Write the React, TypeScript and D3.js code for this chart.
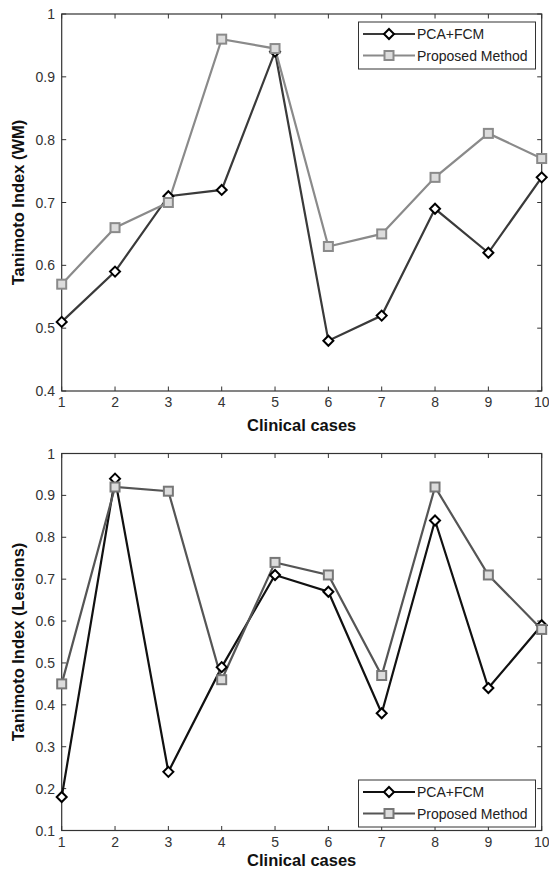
import React from "react";
import * as d3 from "d3";

const cases = [1, 2, 3, 4, 5, 6, 7, 8, 9, 10];
const wmPcaFcm = [0.51, 0.59, 0.71, 0.72, 0.94, 0.48, 0.52, 0.69, 0.62, 0.74];
const wmProposed = [0.57, 0.66, 0.70, 0.96, 0.945, 0.63, 0.65, 0.74, 0.81, 0.77];
const lesPcaFcm = [0.18, 0.94, 0.24, 0.49, 0.71, 0.67, 0.38, 0.84, 0.44, 0.59];
const lesProposed = [0.45, 0.92, 0.91, 0.46, 0.74, 0.71, 0.47, 0.92, 0.71, 0.58];
const wmYTicks = [0.4, 0.5, 0.6, 0.7, 0.8, 0.9, 1];
const lesYTicks = [0.1, 0.2, 0.3, 0.4, 0.5, 0.6, 0.7, 0.8, 0.9, 1];
const seriesNames = ["PCA+FCM", "Proposed Method"];

const FONT = "'Liberation Sans', Arial, Helvetica, sans-serif";

type PanelProps = {
  top: number;
  yDomain: [number, number];
  yTicks: number[];
  a: number[];
  b: number[];
  yLabel: string;
  legendTop: number;
  xLabelOffset: number;
  colA: string;
  colB: string;
  colBEdge: string;
};

function fmt(v: number) {
  return v === 1 ? "1" : v.toFixed(1);
}

function Panel(p: PanelProps) {
  const left = 61.7;
  const right = 541.7;
  const height = 377;
  const bottom = p.top + height;
  const x = d3.scaleLinear().domain([1, 10]).range([left, right]);
  const y = d3.scaleLinear().domain(p.yDomain).range([bottom, p.top]);
  const line = d3
    .line<number>()
    .x((_, i) => x(cases[i]))
    .y((d) => y(d));
  const tl = 4.5;
  const axisCol = "#333";
  const diamond = (cx: number, cy: number, key: any) => (
    <path
      key={key}
      d={`M${cx},${cy - 5} L${cx + 5},${cy} L${cx},${cy + 5} L${cx - 5},${cy} Z`}
      fill="#fff"
      stroke="#000"
      strokeWidth={2}
    />
  );
  const square = (cx: number, cy: number, key: any) => (
    <rect
      key={key}
      x={cx - 4.5}
      y={cy - 4.5}
      width={9}
      height={9}
      fill="#dcdcdc"
      stroke={p.colBEdge}
      strokeWidth={2}
    />
  );
  const lx0 = 363;
  const lx1 = 415;
  const lxm = 389;
  const lw = 177;
  const lh = 47;
  const lgx = 358.5;
  const row1 = p.legendTop + 12;
  const row2 = p.legendTop + 33.5;
  return (
    <g>
      {cases.map((c) => (
        <g key={"xt" + c}>
          <line x1={x(c)} x2={x(c)} y1={bottom} y2={bottom - tl} stroke={axisCol} />
          <line x1={x(c)} x2={x(c)} y1={p.top} y2={p.top + tl} stroke={axisCol} />
          <text
            x={x(c)}
            y={bottom + 16}
            textAnchor="middle"
            fontFamily={FONT}
            fontSize={14}
            fill="#333"
          >
            {c}
          </text>
        </g>
      ))}
      {p.yTicks.map((t) => (
        <g key={"yt" + t}>
          <line x1={left} x2={left + tl} y1={y(t)} y2={y(t)} stroke={axisCol} />
          <line x1={right} x2={right - tl} y1={y(t)} y2={y(t)} stroke={axisCol} />
          <text
            x={55}
            y={y(t) + 5}
            textAnchor="end"
            fontFamily={FONT}
            fontSize={14}
            fill="#333"
          >
            {fmt(t)}
          </text>
        </g>
      ))}
      <rect
        x={left}
        y={p.top}
        width={right - left}
        height={height}
        fill="none"
        stroke={axisCol}
        strokeWidth={1.2}
      />
      <path d={line(p.a) || ""} fill="none" stroke={p.colA} strokeWidth={2.2} />
      <path d={line(p.b) || ""} fill="none" stroke={p.colB} strokeWidth={2.2} />
      {p.a.map((v, i) => diamond(x(cases[i]), y(v), "a" + i))}
      {p.b.map((v, i) => square(x(cases[i]), y(v), "b" + i))}
      <text
        x={(left + right) / 2}
        y={bottom + p.xLabelOffset}
        textAnchor="middle"
        fontFamily={FONT}
        fontSize={16.5}
        fontWeight="bold"
        fill="#111"
      >
        Clinical cases
      </text>
      <text
        transform={`translate(24,${p.top + height / 2}) rotate(-90)`}
        textAnchor="middle"
        fontFamily={FONT}
        fontSize={16.5}
        fontWeight="bold"
        fill="#111"
      >
        {p.yLabel}
      </text>
      <rect x={lgx} y={p.legendTop} width={lw} height={lh} fill="#fff" stroke="#333" strokeWidth={1} />
      <line x1={lx0} x2={lx1} y1={row1} y2={row1} stroke={p.colA} strokeWidth={2.2} />
      {diamond(lxm, row1, "ld")}
      <text x={417} y={row1 + 5} fontFamily={FONT} fontSize={14} fill="#222">
        {seriesNames[0]}
      </text>
      <line x1={lx0} x2={lx1} y1={row2} y2={row2} stroke={p.colB} strokeWidth={2.2} />
      {square(lxm, row2, "ls")}
      <text x={417} y={row2 + 5} fontFamily={FONT} fontSize={14} fill="#222">
        {seriesNames[1]}
      </text>
    </g>
  );
}

export default function App() {
  return (
    <svg
      width={549}
      height={872}
      style={{ position: "absolute", left: 0, top: 0, background: "#fff" }}
    >
      <rect x={0} y={0} width={549} height={872} fill="#fff" />
      <Panel
        top={14}
        yDomain={[0.4, 1]}
        yTicks={wmYTicks}
        a={wmPcaFcm}
        b={wmProposed}
        yLabel="Tanimoto Index (WM)"
        legendTop={22}
        xLabelOffset={40}
        colA="#3a3a3a"
        colB="#8a8a8a"
        colBEdge="#8a8a8a"
      />
      <Panel
        top={453.5}
        yDomain={[0.1, 1]}
        yTicks={lesYTicks}
        a={lesPcaFcm}
        b={lesProposed}
        yLabel="Tanimoto Index (Lesions)"
        legendTop={780}
        xLabelOffset={35}
        colA="#111"
        colB="#555"
        colBEdge="#777"
      />
    </svg>
  );
}
